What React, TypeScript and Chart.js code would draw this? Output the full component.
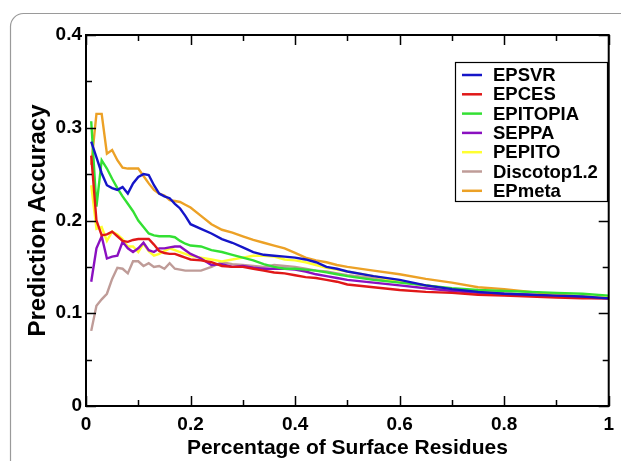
import React, { useEffect, useRef } from "react";
import { Chart, registerables } from "chart.js";

Chart.register(...registerables);

const xValues = [
  0.01, 0.02, 0.03, 0.04, 0.05, 0.06, 0.07, 0.08, 0.09, 0.1,
  0.11, 0.12, 0.13, 0.14, 0.15, 0.16, 0.17, 0.18, 0.19, 0.2,
  0.22, 0.24, 0.26, 0.28, 0.3, 0.32, 0.34, 0.36, 0.38, 0.4,
  0.42, 0.44, 0.46, 0.48, 0.5, 0.55, 0.6, 0.65, 0.7, 0.75,
  0.8, 0.85, 0.9, 0.95, 1.0,
];

const seriesNames = ["EPSVR", "EPCES", "EPITOPIA", "SEPPA", "PEPITO", "Discotop1.2", "EPmeta"];

const epsvr = [
  0.285, 0.268, 0.251, 0.238, 0.235, 0.233, 0.236, 0.229, 0.24, 0.247,
  0.25, 0.249, 0.238, 0.229, 0.226, 0.224, 0.218, 0.213, 0.205, 0.196,
  0.191, 0.186, 0.18, 0.176, 0.171, 0.166, 0.163, 0.162, 0.161, 0.16,
  0.158, 0.155, 0.15, 0.148, 0.145, 0.14, 0.136, 0.13, 0.126, 0.123,
  0.121, 0.12, 0.119, 0.118, 0.116,
];
const epces = [
  0.27, 0.2, 0.184, 0.185, 0.188, 0.183, 0.178, 0.177, 0.179, 0.18,
  0.18, 0.18, 0.174, 0.167, 0.165, 0.164, 0.164, 0.162, 0.16, 0.158,
  0.157, 0.155, 0.151, 0.15, 0.15, 0.148, 0.146, 0.144, 0.143, 0.141,
  0.139, 0.138, 0.136, 0.134, 0.131, 0.128, 0.125, 0.123, 0.122, 0.12,
  0.119, 0.118, 0.117, 0.116, 0.116,
];
const epitopia = [
  0.307, 0.215, 0.265, 0.256, 0.245, 0.235, 0.226, 0.218, 0.21, 0.2,
  0.193, 0.186, 0.184, 0.183, 0.183, 0.183, 0.182, 0.178, 0.175, 0.173,
  0.172, 0.168, 0.166, 0.163, 0.16, 0.157, 0.153, 0.15, 0.148, 0.148,
  0.147, 0.146, 0.144, 0.142, 0.14, 0.136, 0.133, 0.13, 0.127, 0.125,
  0.124, 0.123, 0.122, 0.121, 0.119,
];
const seppa = [
  0.134, 0.17, 0.183, 0.159, 0.161, 0.162, 0.177, 0.17, 0.166, 0.17,
  0.176, 0.168, 0.166, 0.17, 0.17, 0.171, 0.172, 0.172, 0.168, 0.164,
  0.159, 0.152, 0.153, 0.15, 0.151, 0.149, 0.148, 0.148, 0.148, 0.147,
  0.145, 0.142, 0.14, 0.138, 0.136, 0.133, 0.13, 0.127, 0.124, 0.122,
  0.121, 0.12, 0.118, 0.117, 0.116,
];
const pepito = [
  0.238, 0.191, 0.193, 0.178, 0.188, 0.185, 0.18, 0.172, 0.172, 0.166,
  0.175, 0.167, 0.162, 0.164, 0.167, 0.17, 0.168, 0.166, 0.164, 0.162,
  0.16, 0.158, 0.156, 0.158, 0.16, 0.162, 0.162, 0.161, 0.158, 0.157,
  0.155, 0.152, 0.149, 0.147, 0.145, 0.14, 0.134, 0.13, 0.126, 0.123,
  0.121, 0.12, 0.119, 0.118, 0.117,
];
const discotop = [
  0.081, 0.108, 0.115, 0.121, 0.137, 0.149, 0.148, 0.143, 0.156, 0.156,
  0.151, 0.154, 0.15, 0.151, 0.148, 0.154, 0.148, 0.147, 0.146, 0.146,
  0.146, 0.15, 0.155, 0.153, 0.152, 0.151, 0.15, 0.152, 0.151, 0.15,
  0.148, 0.146, 0.145, 0.143, 0.141, 0.138, 0.134, 0.13, 0.126, 0.123,
  0.12, 0.119, 0.118, 0.117, 0.116,
];
const epmeta = [
  0.26, 0.315, 0.315, 0.272, 0.276, 0.265, 0.257, 0.256, 0.256, 0.256,
  0.248, 0.24, 0.233, 0.229, 0.227, 0.222, 0.221, 0.22, 0.217, 0.214,
  0.205, 0.196, 0.19, 0.187, 0.183, 0.179, 0.176, 0.173, 0.17, 0.165,
  0.16, 0.157, 0.155, 0.152, 0.15, 0.146, 0.142, 0.137, 0.133, 0.128,
  0.126, 0.123, 0.12, 0.118, 0.116,
];

const seriesValues = [epsvr, epces, epitopia, seppa, pepito, discotop, epmeta];
const seriesColors = ["#1515c8", "#e01818", "#33e033", "#8a10c0", "#ffff30", "#bf9c98", "#eca126"];

const xTickValues = [0, 0.2, 0.4, 0.6, 0.8, 1];
const xTickLabels = ["0", "0.2", "0.4", "0.6", "0.8", "1"];
const yTickValues = [0, 0.1, 0.2, 0.3, 0.4];
const yTickLabels = ["0", "0.1", "0.2", "0.3", "0.4"];
const xMinorTicks = [0.1, 0.3, 0.5, 0.7, 0.9];
const yMinorTicks = [0.05, 0.15, 0.25, 0.35];

const FONT = "'Liberation Sans', Arial, sans-serif";

const framePlugin = {
  id: "frameAndTicks",
  beforeDraw(chart: any) {
    const ctx = chart.ctx;
    ctx.save();
    ctx.strokeStyle = "#9a9a9a";
    ctx.lineWidth = 1.2;
    ctx.beginPath();
    ctx.moveTo(10.5, chart.height + 5);
    ctx.lineTo(10.5, 26);
    ctx.arcTo(10.5, 13.5, 23, 13.5, 13);
    ctx.lineTo(chart.width + 5, 13.5);
    ctx.stroke();
    ctx.restore();
  },
  afterDatasetsDraw(chart: any) {
    const ctx = chart.ctx;
    const { left, right, top, bottom } = chart.chartArea;
    const xs = chart.scales.x;
    const ys = chart.scales.y;
    ctx.save();
    ctx.strokeStyle = "#000";
    ctx.lineWidth = 1.5;
    const major = 10;
    const minor = 6;
    ctx.beginPath();
    xTickValues.forEach((v) => {
      const p = Math.round(xs.getPixelForValue(v)) + 0.5;
      ctx.moveTo(p, bottom); ctx.lineTo(p, bottom - major);
      ctx.moveTo(p, top); ctx.lineTo(p, top + major);
    });
    xMinorTicks.forEach((v) => {
      const p = Math.round(xs.getPixelForValue(v)) + 0.5;
      ctx.moveTo(p, bottom); ctx.lineTo(p, bottom - minor);
      ctx.moveTo(p, top); ctx.lineTo(p, top + minor);
    });
    yTickValues.forEach((v) => {
      const p = Math.round(ys.getPixelForValue(v)) + 0.5;
      ctx.moveTo(left, p); ctx.lineTo(left + major, p);
      ctx.moveTo(right, p); ctx.lineTo(right - major, p);
    });
    yMinorTicks.forEach((v) => {
      const p = Math.round(ys.getPixelForValue(v)) + 0.5;
      ctx.moveTo(left, p); ctx.lineTo(left + minor, p);
      ctx.moveTo(right, p); ctx.lineTo(right - minor, p);
    });
    ctx.stroke();
    ctx.lineWidth = 2;
    ctx.strokeRect(left, top, right - left, bottom - top);

    // legend box
    const lx = 455, ly = 62, lw = 152, lh = 139;
    ctx.fillStyle = "#fff";
    ctx.fillRect(lx, ly, lw, lh);
    ctx.lineWidth = 1.2;
    ctx.strokeStyle = "#000";
    ctx.strokeRect(lx + 0.5, ly + 0.5, lw, lh);
    ctx.font = `bold 18.5px ${FONT}`;
    ctx.textBaseline = "middle";
    ctx.textAlign = "left";
    chart.data.datasets.forEach((ds: any, i: number) => {
      const y = ly + 13 + i * 19.3;
      ctx.strokeStyle = ds.borderColor;
      ctx.lineWidth = 2.5;
      ctx.beginPath();
      ctx.moveTo(462, y);
      ctx.lineTo(482, y);
      ctx.stroke();
      ctx.fillStyle = "#000";
      ctx.fillText(ds.label, 493, y + 1);
    });
    ctx.restore();
  },
};

export default function App() {
  const canvasRef = useRef<HTMLCanvasElement | null>(null);

  useEffect(() => {
    const canvas = canvasRef.current;
    if (!canvas) return;
    const datasets = seriesNames.map((name, i) => ({
      label: name,
      data: xValues.map((x, j) => ({ x, y: seriesValues[i][j] })),
      borderColor: seriesColors[i],
      backgroundColor: seriesColors[i],
      borderWidth: 2.4,
      pointRadius: 0,
      tension: 0,
      fill: false,
    }));
    const chart = new Chart(canvas, {
      type: "line",
      data: { datasets },
      plugins: [framePlugin],
      options: {
        animation: false,
        responsive: false,
        devicePixelRatio: 1,
        layout: { padding: { top: 35, right: 7, left: 0, bottom: 0 } },
        plugins: {
          legend: { display: false },
          tooltip: { enabled: false },
        },
        scales: {
          x: {
            type: "linear",
            min: 0,
            max: 1,
            grid: { display: false, drawTicks: false },
            border: { display: false },
            afterBuildTicks: (scale: any) => {
              scale.ticks = xTickValues.map((v) => ({ value: v }));
            },
            afterFit: (scale: any) => {
              scale.height = 55;
            },
            ticks: {
              autoSkip: false,
              maxRotation: 0,
              padding: 7,
              color: "#000",
              font: { family: FONT, size: 19, weight: "bold" },
              callback: (v: any) => {
                const k = xTickValues.findIndex((t) => Math.abs(t - Number(v)) < 1e-9);
                return k >= 0 ? xTickLabels[k] : "";
              },
            },
            title: {
              display: true,
              text: "Percentage of Surface Residues",
              color: "#000",
              font: { family: FONT, size: 21, weight: "bold" },
              padding: { top: 0, bottom: 0 },
            },
          },
          y: {
            type: "linear",
            min: 0,
            max: 0.4,
            grid: { display: false, drawTicks: false },
            border: { display: false },
            afterBuildTicks: (scale: any) => {
              scale.ticks = yTickValues.map((v) => ({ value: v }));
            },
            afterFit: (scale: any) => {
              scale.width = 86;
            },
            ticks: {
              autoSkip: false,
              padding: 4,
              color: "#000",
              font: { family: FONT, size: 19, weight: "bold" },
              callback: (v: any) => {
                const k = yTickValues.findIndex((t) => Math.abs(t - Number(v)) < 1e-9);
                return k >= 0 ? yTickLabels[k] : "";
              },
            },
            title: {
              display: true,
              text: "Prediction Accuracy",
              color: "#000",
              font: { family: FONT, size: 24, weight: "bold" },
              padding: { top: 24, bottom: 0 },
            },
          },
        },
      },
    } as any);
    return () => chart.destroy();
  }, []);

  return (
    <div style={{ position: "absolute", left: 0, top: 0, width: 621, height: 461, background: "#fff" }}>
      <canvas ref={canvasRef} width={621} height={461} style={{ display: "block", width: 621, height: 461 }} />
    </div>
  );
}
